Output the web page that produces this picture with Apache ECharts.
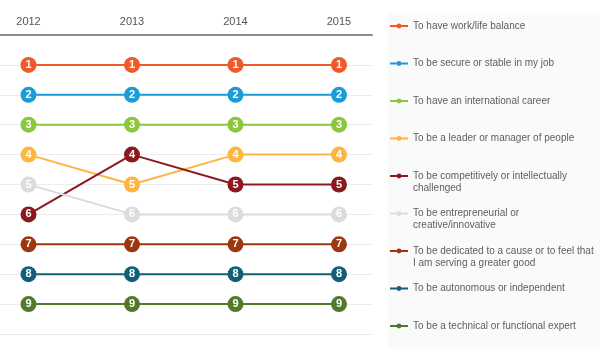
<!DOCTYPE html>
<html>
<head>
<meta charset="utf-8">
<script src="https://cdn.jsdelivr.net/npm/echarts@6/dist/echarts.min.js"></script>
<style>
html,body{margin:0;padding:0;background:#fff;}
#chart{width:600px;height:356px;}
</style>
</head>
<body>
<div id="chart"></div>
<script>
const years = ['2012', '2013', '2014', '2015'];
const seriesNames = [
  'To have work/life balance',
  'To be secure or stable in my job',
  'To have an international career',
  'To be a leader or manager of people',
  'To be competitively or intellectually\nchallenged',
  'To be entrepreneurial or\ncreative/innovative',
  'To be dedicated to a cause or to feel that\nI am serving a greater good',
  'To be autonomous or independent',
  'To be a technical or functional expert'
];
const workLife = [1, 1, 1, 1];
const secure = [2, 2, 2, 2];
const international = [3, 3, 3, 3];
const leader = [4, 5, 4, 4];
const competitive = [6, 4, 5, 5];
const entrepreneurial = [5, 6, 6, 6];
const dedicated = [7, 7, 7, 7];
const autonomous = [8, 8, 8, 8];
const technical = [9, 9, 9, 9];
const colors = ['#f05a28', '#1b9bd7', '#8cc63f', '#fbb540', '#8b1a20', '#dcdcdc', '#9c3710', '#135f77', '#507a2a'];

const allValues = [workLife, secure, international, leader, competitive, entrepreneurial, dedicated, autonomous, technical];
const FONT = '"Liberation Sans", Arial, Helvetica, sans-serif';

const series = allValues.map((vals, i) => ({
  name: seriesNames[i],
  type: 'line',
  data: vals.map((v, j) => [j, v]),
  symbol: 'circle',
  symbolSize: 16,
  lineStyle: { width: 2, color: colors[i] },
  itemStyle: { color: colors[i] },
  label: {
    show: true,
    position: 'inside',
    formatter: p => String(p.value[1]),
    color: '#fff',
    fontWeight: 'bold',
    fontSize: 11,
    fontFamily: FONT
  },
  emphasis: { disabled: true },
  animation: false
}));

const chart = echarts.init(document.getElementById('chart'), null, { renderer: 'canvas' });
chart.setOption({
  animation: false,
  color: colors,
  graphic: [{
    type: 'rect',
    z: -10,
    shape: { x: 388, y: 13, width: 212, height: 336 },
    style: { fill: '#fafafa' },
    silent: true
  }],
  grid: { left: 0, right: 228, top: 35, bottom: 22, containLabel: false, outerBoundsMode: 'none' },
  xAxis: {
    type: 'value',
    position: 'top',
    min: -0.2754,
    max: 3.319,
    axisLine: { show: true, lineStyle: { color: '#8c8c8c', width: 2 } },
    axisTick: { show: false },
    splitLine: { show: false },
    axisLabel: {
      customValues: [0, 1, 2, 3],
      formatter: v => years[Math.round(v)],
      color: '#555',
      fontSize: 11,
      fontFamily: FONT,
      margin: 8
    }
  },
  yAxis: {
    type: 'value',
    inverse: true,
    min: 0,
    max: 10,
    interval: 1,
    axisLine: { show: false },
    axisTick: { show: false },
    axisLabel: { show: false },
    splitLine: { show: true, lineStyle: { color: '#ececec', width: 1 } }
  },
  legend: {
    orient: 'vertical',
    left: 389,
    top: 8,
    padding: 0,
    itemGap: 1.5,
    itemWidth: 18,
    itemHeight: 6,
    selectedMode: false,
    data: seriesNames,
    formatter: name => name.indexOf('\n') >= 0 ? '\n' + name : '\n' + name + '\n',
    textStyle: {
      color: '#5e5e5e',
      fontSize: 10,
      lineHeight: 12,
      fontFamily: FONT
    }
  },
  series: series
});
</script>
</body>
</html>
